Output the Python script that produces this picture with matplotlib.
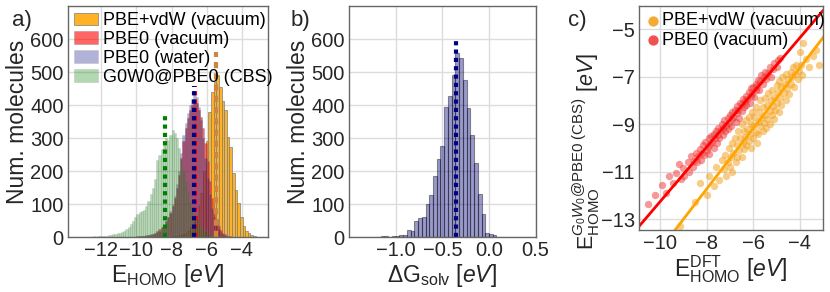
import numpy as np
import matplotlib
matplotlib.use("Agg")
import matplotlib.pyplot as plt

plt.rcParams['font.family'] = ['Liberation Sans', 'DejaVu Sans']
plt.rcParams['mathtext.fontset'] = 'custom'
plt.rcParams['mathtext.rm'] = 'Liberation Sans'
plt.rcParams['mathtext.it'] = 'Liberation Sans:italic'
plt.rcParams['mathtext.bf'] = 'Liberation Sans:bold'

# ---- panel a: HOMO histograms (counts per bin)
vdw_start, vdw_width = -8.6, 0.15
vdw_counts = [1, 1, 2, 2, 3, 4, 5, 7, 10, 14, 20, 30, 45, 65, 95, 135, 200, 290, 380,
              440, 470, 492, 456, 411, 386, 305, 274, 194, 143, 103, 62, 35, 20, 12,
              7, 4, 2, 1]

pbe0_start, pbe0_width = -10.5, 0.125
pbe0_vac_counts = [1, 1, 2, 2, 3, 3, 4, 5,
                   6, 7, 9, 11, 14, 18, 24, 30,
                   38, 48, 60, 75, 95, 120, 150, 190,
                   240, 290, 330, 360, 385, 400, 408, 405,
                   385, 365, 330, 285, 230, 170, 120, 80,
                   55, 35, 22, 14, 9, 5, 3, 2]
pbe0_wat_counts = [1, 1, 1, 2, 2, 3, 3, 4,
                   5, 6, 8, 10, 12, 15, 20, 28,
                   36, 48, 62, 80, 100, 125, 160, 200,
                   255, 310, 345, 375, 400, 420, 432, 425,
                   395, 355, 300, 240, 180, 130, 90, 60,
                   40, 26, 16, 10, 6, 4, 2, 1]

gw_start, gw_width = -13.5, 0.125
gw_counts = [1, 0, 1, 1, 2, 1, 2, 2, 3, 2, 3, 4,
             4, 5, 5, 6, 8, 9, 10, 12,
             14, 16, 20, 26, 32, 40, 50, 62,
             72, 76, 80, 84, 95, 110, 130, 150,
             175, 235, 250, 268, 290, 300, 295, 310,
             325, 315, 300, 270, 235, 200, 170, 140,
             110, 90, 70, 55, 42, 32, 25, 19,
             14, 11, 8, 6, 5, 4, 3, 2,
             2, 1, 1, 1]

# mean lines: (position, height)
vdw_mean, vdw_top = -5.48, 562
pbe0_vac_mean, pbe0_vac_top = -6.64, 458
pbe0_wat_mean, pbe0_wat_top = -6.70, 458
gw_mean, gw_top = -8.38, 370

# ---- panel b: solvation energy histogram
dg_start, dg_width = -1.2, 0.04
dg_counts = [2, 3, 3, 1, 3, 4, 7, 7, 21, 19, 50, 58, 62, 102, 128, 185, 237, 276,
             395, 427, 490, 559, 542, 475, 391, 309, 226, 132, 72, 14, 9, 6, 2]
dg_mean, dg_top = -0.35, 600

pbe0_pts = [(-10.5, -12.35), (-10.2, -12.0), (-9.9, -11.55), (-9.75, -11.9), (-9.6, -11.2),
            (-9.45, -11.5), (-9.3, -11.05), (-9.2, -10.7), (-9.1, -11.3), (-9.0, -10.85),
            (-8.95, -11.2), (-8.8, -10.6), (-8.75, -11.0), (-8.65, -10.35), (-8.6, -10.8),
            (-8.55, -10.55), (-8.45, -10.2), (-8.4, -10.6), (-8.35, -10.35), (-8.3, -10.05),
            (-8.25, -10.5), (-8.2, -10.2), (-8.15, -9.9), (-8.1, -10.3), (-8.05, -9.75),
            (-8.0, -10.1), (-7.95, -9.95), (-7.9, -9.6), (-7.9, -10.25), (-7.85, -9.85),
            (-7.8, -9.5), (-7.75, -9.75), (-7.7, -10.0), (-7.7, -9.4), (-7.65, -9.6),
            (-7.6, -9.3), (-7.55, -9.8), (-7.5, -9.45), (-7.5, -9.15), (-7.45, -9.6),
            (-7.4, -9.25), (-7.35, -9.0), (-7.3, -9.45), (-7.3, -9.15), (-7.25, -8.85),
            (-7.2, -9.3), (-7.15, -9.05), (-7.1, -8.75), (-7.1, -9.2), (-7.05, -8.95),
            (-7.0, -8.6), (-6.95, -9.1), (-6.9, -8.8), (-6.9, -8.5), (-6.85, -8.7),
            (-6.8, -8.4), (-6.75, -8.9), (-6.7, -8.55), (-6.7, -8.25), (-6.65, -8.4),
            (-6.6, -8.75), (-6.55, -8.1), (-6.5, -8.45), (-6.5, -8.15), (-6.45, -7.95),
            (-6.4, -8.3), (-6.35, -8.05), (-6.3, -7.8), (-6.3, -8.2), (-6.25, -7.95),
            (-6.2, -7.65), (-6.15, -8.1), (-6.1, -7.8), (-6.1, -7.5), (-6.05, -7.7),
            (-6.0, -7.45), (-5.95, -7.85), (-5.9, -7.55), (-5.9, -7.3), (-5.85, -7.4),
            (-5.8, -7.15), (-5.75, -7.55), (-5.7, -7.2), (-5.65, -6.95), (-5.6, -7.3),
            (-5.55, -7.0), (-5.5, -6.8), (-5.45, -7.1), (-5.35, -6.85), (-5.3, -6.6),
            (-5.25, -7.0), (-5.15, -6.7), (-5.1, -6.45), (-5.0, -6.6), (-4.95, -6.3),
            (-4.85, -6.2)]
vdw_pts = [(-9.15, -13.3), (-8.5, -12.3), (-8.3, -11.5), (-8.0, -12.0), (-7.9, -11.2),
           (-7.7, -11.6), (-7.6, -10.8), (-7.45, -11.35), (-7.35, -10.5),
           (-3.85, -5.6), (-3.45, -6.15), (-3.3, -5.9), (-3.6, -6.6), (-3.75, -6.25),
           (-4.0, -5.95), (-3.2, -6.5),
           (-7.25, -10.9), (-7.2, -10.3), (-7.15, -11.2), (-7.1, -10.6),
           (-7.05, -10.0), (-7.0, -10.8), (-6.95, -10.4), (-6.9, -9.8), (-6.9, -11.0),
           (-6.85, -10.2), (-6.8, -9.6), (-6.75, -10.6), (-6.7, -9.9), (-6.7, -10.4), (-6.65, -9.3),
           (-6.6, -10.1), (-6.55, -9.6), (-6.5, -9.0), (-6.5, -10.4), (-6.45, -9.8), (-6.4, -9.3),
           (-6.4, -10.05), (-6.35, -9.55), (-6.3, -8.85), (-6.3, -9.9), (-6.25, -9.2), (-6.2, -9.7),
           (-6.2, -8.7), (-6.15, -9.4), (-6.1, -10.0), (-6.1, -9.0), (-6.05, -8.5), (-6.0, -9.6),
           (-6.0, -9.1), (-5.95, -8.7), (-5.9, -9.35), (-5.9, -8.3), (-5.85, -9.8), (-5.8, -8.9),
           (-5.8, -9.4), (-5.75, -8.5), (-5.7, -9.1), (-5.7, -8.0), (-5.65, -8.75), (-5.6, -9.3),
           (-5.6, -8.3), (-5.55, -8.95), (-5.5, -7.9), (-5.5, -8.6), (-5.45, -9.15), (-5.4, -8.2),
           (-5.4, -8.8), (-5.35, -7.7), (-5.3, -8.45), (-5.3, -9.0), (-5.25, -8.0), (-5.2, -8.6),
           (-5.2, -7.55), (-5.15, -8.25), (-5.1, -8.8), (-5.1, -7.85), (-5.05, -8.4), (-5.0, -7.35),
           (-5.0, -8.1), (-4.95, -7.65), (-4.9, -8.5), (-4.9, -7.2), (-4.85, -7.9), (-4.8, -7.45),
           (-4.8, -8.2), (-4.75, -7.0), (-4.7, -7.7), (-4.65, -7.3), (-4.6, -8.0), (-4.6, -6.9),
           (-4.55, -7.5), (-4.5, -7.1), (-4.45, -7.75), (-4.4, -6.8), (-4.4, -7.3),
           (-4.35, -7.0), (-4.3, -6.6), (-4.25, -7.45), (-4.2, -6.9), (-4.15, -6.5),
           (-4.1, -7.1), (-4.05, -6.75), (-3.95, -6.5), (-3.9, -6.95)]
# linear fits (slope, intercept)
pbe0_fit = (1.151, -0.76)
vdw_fit = (1.277, -1.517)


def hist_from_counts(ax, start, width, counts, **kw):
    counts = np.asarray(counts, dtype=float)
    edges = start + width * np.arange(len(counts) + 1)
    centers = 0.5 * (edges[:-1] + edges[1:])
    return ax.hist(centers, bins=edges, weights=counts, **kw)


def style(ax):
    ax.set_facecolor('white')
    ax.grid(True, color='#dcdcdc', lw=1.0)
    ax.set_axisbelow(True)
    for s in ax.spines.values():
        s.set_color('#666666')
        s.set_linewidth(1.0)
    ax.tick_params(length=0, labelsize=14.5, colors='#262626', pad=3)


fig = plt.figure(figsize=(8.3, 2.92), dpi=100)
axa = fig.add_axes([0.0819, 0.1873, 0.241, 0.7922])
axb = fig.add_axes([0.4205, 0.1873, 0.2249, 0.7922])
axc = fig.add_axes([0.7699, 0.2123, 0.2220, 0.7672])
for ax in (axa, axb, axc):
    style(ax)

# ---- a
hist_from_counts(axa, vdw_start, vdw_width, vdw_counts, color='orange', alpha=0.85,
                 edgecolor='gray', linewidth=0.6, label='PBE+vdW (vacuum)')
hist_from_counts(axa, pbe0_start, pbe0_width, pbe0_vac_counts, color='red', alpha=0.6,
                 edgecolor='gray', linewidth=0.4, label='PBE0 (vacuum)')
hist_from_counts(axa, pbe0_start, pbe0_width, pbe0_wat_counts, color='navy', alpha=0.3,
                 edgecolor='gray', linewidth=0.4, label='PBE0 (water)')
hist_from_counts(axa, gw_start, gw_width, gw_counts, color='green', alpha=0.3,
                 edgecolor='gray', linewidth=0.4, label='G0W0@PBE0 (CBS)')
axa.vlines(vdw_mean, 0, vdw_top, color='peru', lw=3, linestyles=(0, (1.5, 1.2)))
axa.vlines(pbe0_vac_mean, 0, pbe0_vac_top, color='red', lw=3, linestyles=(0, (1, 1)))
axa.vlines(pbe0_wat_mean, 0, pbe0_wat_top, color='navy', lw=3, linestyles=(0, (1, 1)))
axa.vlines(gw_mean, 0, gw_top, color='green', lw=3, linestyles=(0, (1, 1)))
axa.set_xlim(-13.9, -2.5)
axa.set_ylim(0, 700)
axa.set_xticks([-12, -10, -8, -6, -4])
axa.set_yticks([0, 100, 200, 300, 400, 500, 600])
axa.set_xlabel(r'E$_{\rm HOMO}$ [$eV$]', fontsize=16.5, color='#262626', labelpad=1)
axa.set_ylabel('Num. molecules', fontsize=16.5, color='#262626', labelpad=1)
axa.legend(loc='upper left', bbox_to_anchor=(0.0, 1.0), frameon=False, fontsize=13,
           handlelength=1.3, handletextpad=0.3, labelspacing=0.1, borderpad=0.15,
           borderaxespad=0.2)

# ---- b
hist_from_counts(axb, dg_start, dg_width, dg_counts, color='navy', alpha=0.4,
                 edgecolor='black', linewidth=0.8)
axb.vlines(dg_mean, 0, dg_top, color='navy', lw=3, linestyles=(0, (1, 1)))
axb.set_xlim(-1.5, 0.5)
axb.set_ylim(0, 700)
axb.set_xticks([-1.0, -0.5, 0.0, 0.5])
axb.set_yticks([0, 100, 200, 300, 400, 500, 600])
axb.set_xlabel(r'$\Delta$G$_{\rm solv}$ [$eV$]', fontsize=16.5, color='#262626', labelpad=1)
axb.set_ylabel('Num. molecules', fontsize=16.5, color='#262626', labelpad=1)

# ---- c
vx, vy = zip(*vdw_pts)
px, py = zip(*pbe0_pts)
axc.scatter(vx, vy, s=28, color='#f39c12', alpha=0.5, lw=0, label='PBE+vdW (vacuum)')
axc.scatter(px, py, s=28, color='#ee3333', alpha=0.5, lw=0, label='PBE0 (vacuum)')
xl = np.array([-10.9, -3.0])
axc.plot(xl, pbe0_fit[0] * xl + pbe0_fit[1], color='red', lw=2)
axc.plot(xl, vdw_fit[0] * xl + vdw_fit[1], color='orange', lw=2)
axc.set_xlim(-10.9, -3.0)
axc.set_ylim(-13.46, -4.03)
axc.set_xticks([-10, -8, -6, -4])
axc.set_yticks([-5, -7, -9, -11, -13])
axc.set_xlabel(r'E$_{\rm HOMO}^{\rm DFT}$ [$eV$]', fontsize=16.5, color='#262626', labelpad=0)
axc.set_ylabel(r'E$_{\rm HOMO}^{G_0W_0@{\rm PBE0\ (CBS)}}$ [$eV$]', fontsize=15.5,
               color='#262626')
axc.yaxis.set_label_coords(-0.2, 0.35)
leg = axc.legend(loc='upper left', frameon=False, fontsize=13, handletextpad=0.05,
                 handlelength=0.9, labelspacing=0.15, borderpad=0.3, borderaxespad=0.05,
                 markerscale=1.4)
for h in leg.legend_handles:
    h.set_alpha(0.85)

fig.text(0.014, 0.912, 'a)', fontsize=16, color='#262626')
fig.text(0.350, 0.912, 'b)', fontsize=16, color='#262626')
fig.text(0.684, 0.912, 'c)', fontsize=16, color='#262626')

fig.savefig('out.png', dpi=100)
